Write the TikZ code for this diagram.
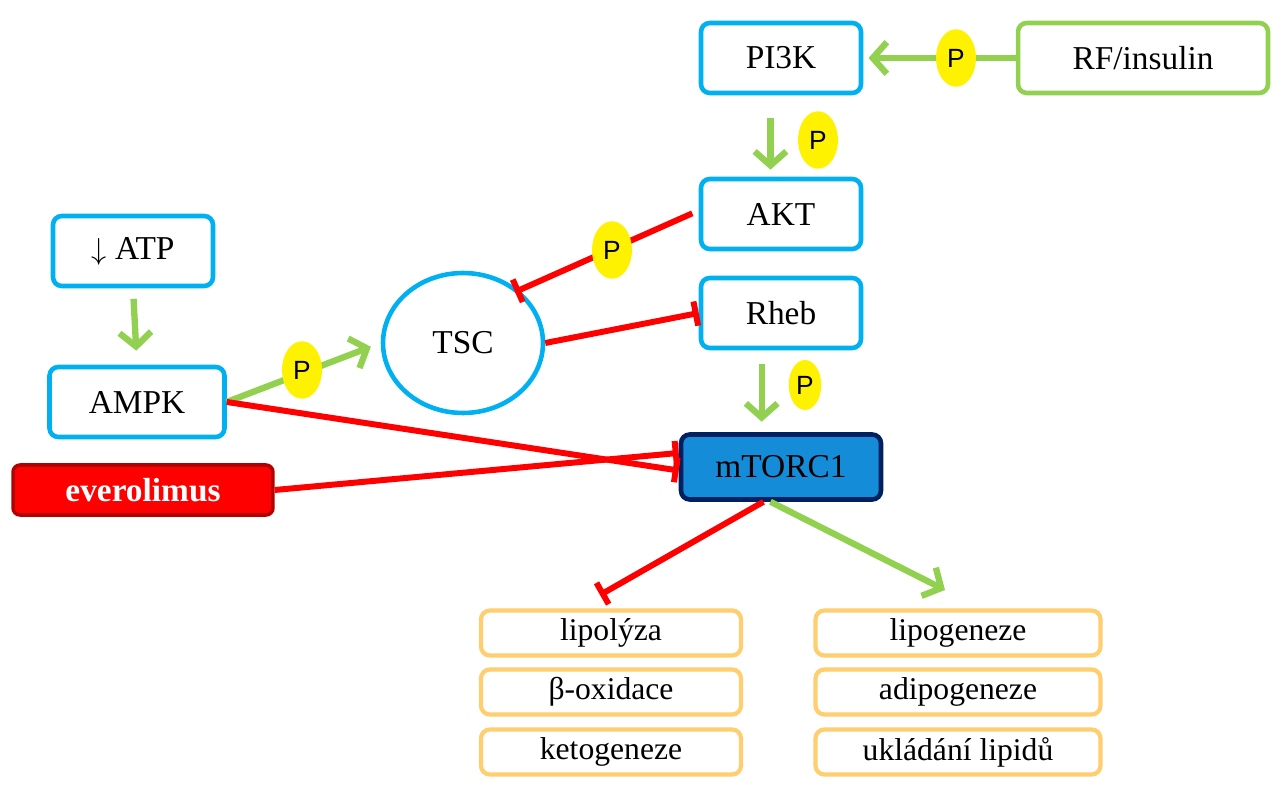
\documentclass[tikz,border=0pt]{standalone}
\usepackage{fontspec}
\setmainfont{Liberation Serif}
\newfontfamily\pfont{Liberation Sans}
\usetikzlibrary{arrows.meta,shapes.geometric}
\definecolor{boxblue}{RGB}{0,176,240}
\definecolor{actgreen}{RGB}{146,208,80}
\definecolor{inhred}{RGB}{255,0,0}
\definecolor{fateorange}{RGB}{255,206,110}
\definecolor{mtorfill}{RGB}{20,140,215}
\definecolor{mtorline}{RGB}{0,32,96}
\tikzset{
  prot/.style={draw=boxblue,line width=2.6pt,rounded corners=5pt,minimum width=3.2cm,minimum height=1.4cm,font=\fontsize{19}{21}\selectfont},
  fate/.style={draw=fateorange,line width=2.4pt,rounded corners=5pt,minimum width=5.2cm,minimum height=0.9cm,font=\fontsize{18}{20}\selectfont},
  phos/.style={ellipse,fill=yellow,minimum width=0.8cm,minimum height=1.15cm,inner sep=0pt,font=\pfont\fontsize{15}{17}\selectfont},
  act/.style={draw=actgreen,line width=3.6pt,-{Straight Barb[length=8pt,width=18pt]}},
  inh/.style={draw=inhred,line width=3.4pt,-{Bar[width=14pt,line width=3.4pt]}}
}
\begin{document}
\begin{tikzpicture}[x=0.02cm,y=-0.02cm]
\useasboundingbox (0,0) rectangle (1285,800);
% signalling nodes
\node[prot] (pi3k) at (781,58) {PI3K};
\node[prot,draw=actgreen,minimum width=5cm] (rf) at (1143,58) {RF/insulin};
\node[prot] (akt) at (781,214) {AKT};
\node[prot] (rheb) at (781,313) {Rheb};
\node[prot,ellipse,minimum width=3.2cm,minimum height=2.8cm] (tsc) at (463,343) {TSC};
\node[prot] (atp) at (133,251) {\fontsize{17}{19}\selectfont$\downarrow$\fontsize{19}{21}\selectfont{} ATP};
\node[prot,minimum width=3.5cm] (ampk) at (137,402) {AMPK};
\node[prot,draw=mtorline,fill=mtorfill,minimum width=4cm,minimum height=1.3cm] (mtor) at (781,467) {mTORC1};
\node[draw=inhred!70!black,fill=inhred,line width=2pt,rounded corners=4pt,minimum width=5.2cm,minimum height=1cm,text=white,font=\bfseries\fontsize{19}{21}\selectfont] (evero) at (143,490) {everolimus};
% outcomes
\node[fate] (lipo) at (611,633) {lipolýza};
\node[fate] (boxi) at (611,692) {β-oxidace};
\node[fate] (keto) at (611,752) {ketogeneze};
\node[fate,minimum width=5.7cm] (lgen) at (958,633) {lipogeneze};
\node[fate,minimum width=5.7cm] (agen) at (958,692) {adipogeneze};
\node[fate,minimum width=5.7cm] (ulip) at (958,752) {ukládání lipidů};
% connectors
\draw[act,shorten >=3pt] (rf.west) -- (pi3k.east);
\node[phos] (p1) at (956,58) {P};
\draw[act,shorten <=13pt,shorten >=4pt] ([xshift=-6]pi3k.south) -- ([xshift=-6]akt.north);
\node[phos] (p2) at (818,140) {P};
\draw[inh,shorten <=4pt] ([yshift=2]akt.west) -- (515,292);
\node[phos] (p3) at (612,250) {P};
\draw[inh] (tsc.east) -- (rheb.west);
\draw[act,shorten <=8pt,shorten >=6pt] ([xshift=-11]rheb.south) -- ([xshift=-11]mtor.north);
\node[phos,minimum width=0.65cm,minimum height=1cm] (p4) at (805,385) {P};
\draw[act,shorten <=6pt,shorten >=8pt] (atp.south) -- (ampk.north);
\draw[act,shorten >=6pt] (ampk.east) -- (tsc.west);
\node[phos] (p5) at (302,370) {P};
\draw[inh] (ampk.east) -- ([yshift=-2]mtor.west);
\draw[inh] (evero.east) -- ([yshift=8]mtor.west);
\draw[inh] ([xshift=-10]mtor.south) -- (600,595);
\draw[act] ([xshift=-6]mtor.south) -- (945,590);
\end{tikzpicture}
\end{document}
